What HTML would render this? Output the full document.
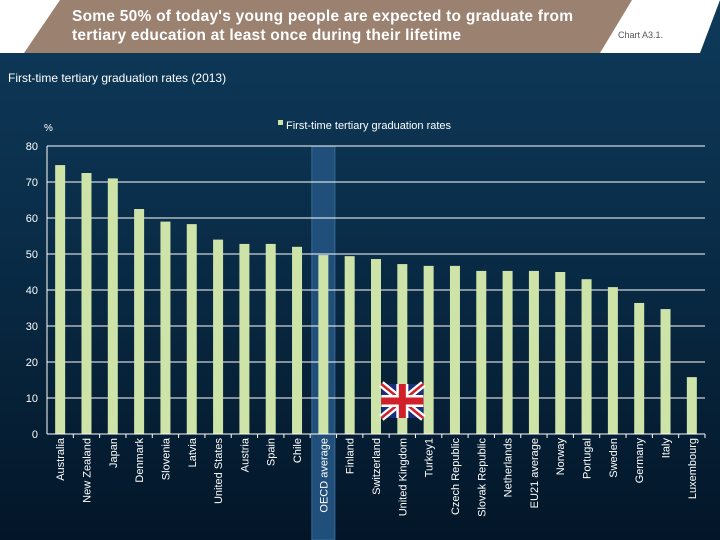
<!DOCTYPE html>
<html><head><meta charset="utf-8"><style>
body{margin:0;width:720px;height:540px;overflow:hidden;font-family:"Liberation Sans",sans-serif}
#bg{position:absolute;left:0;top:0;width:720px;height:540px;background:linear-gradient(180deg,#0e3a5a 0%,#0a2e4a 40%,#031628 100%)}
svg{position:absolute;left:0;top:0}
</style></head><body>
<div id="bg"></div>
<svg width="720" height="540">
<polygon points="0,0 720,0 720,0 700,53 0,53" fill="#ffffff"/>
<polygon points="60,0 632,0 600,53 24,53" fill="#9a8170"/>
<text x="72" y="21" font-size="15.5" font-weight="bold" fill="#fff" textLength="501">Some 50% of today's young people are expected to graduate from</text>
<text x="72" y="40" font-size="15.5" font-weight="bold" fill="#fff" textLength="389">tertiary education at least once during their lifetime</text>
<text x="618" y="38" font-size="9" fill="#555">Chart A3.1.</text>
<text x="8" y="82" font-size="12" fill="#fff">First-time tertiary graduation rates (2013)</text>
<rect x="278" y="120" width="5" height="5" fill="#cde3a8"/>
<text x="286" y="129" font-size="11" fill="#fff">First-time tertiary graduation rates</text>
<text x="44" y="131" font-size="10" fill="#fff">%</text>
<g id="plot"></g>
</svg>
<script>
const categories=["Australia","New Zealand","Japan","Denmark","Slovenia","Latvia","United States","Austria","Spain","Chile","OECD average","Finland","Switzerland","United Kingdom","Turkey1","Czech Republic","Slovak Republic","Netherlands","EU21  average","Norway","Portugal","Sweden","Germany","Italy","Luxembourg"];
const values=[74.7,72.5,71,62.5,59,58.3,54,52.8,52.8,52,49.7,49.4,48.6,47.2,46.7,46.7,45.3,45.3,45.3,45,43,40.8,36.4,34.7,15.8];
const yTicks=[0,10,20,30,40,50,60,70,80];
const NS="http://www.w3.org/2000/svg";
const g=document.getElementById('plot');
const x0=47,x1=705,y0=434,yTop=146;
const step=(x1-x0)/categories.length;
function X(i){return x0+step/2+i*step;}
function Y(v){return y0-(v/80)*(y0-yTop);}
function mk(t,a){const e=document.createElementNS(NS,t);for(const k in a)e.setAttribute(k,a[k]);g.appendChild(e);return e;}
const oi=categories.indexOf("OECD average");
let hb=mk('rect',{x:X(oi)-11.5,y:yTop,width:23,height:540-yTop,fill:'#1f4f7a',stroke:'#3a6a95','stroke-width':1});


yTicks.forEach(t=>{
  if(t>0){let l=mk('line',{x1:x0,x2:x1,y1:Y(t),y2:Y(t),stroke:'#fff','stroke-width':1});
  
  }
  let tx=mk('text',{x:38,y:Y(t)+4,'font-size':11,fill:'#fff','text-anchor':'end'});tx.textContent=t;
  
  
});
categories.forEach((c,i)=>{
  let b=mk('rect',{x:X(i)-5,y:Y(values[i]),width:10,height:y0-Y(values[i]),fill:'#cde3a8'});
  
  
  let tk=mk('line',{x1:X(i)+step/2,x2:X(i)+step/2,y1:y0,y2:y0+4,stroke:'#fff'});
  
  
  let t=mk('text',{x:0,y:0,'font-size':11,fill:'#fff','text-anchor':'end',transform:`translate(${X(i)+4},${y0+4}) rotate(-90)`});
  t.textContent=c;
  
  
});
let ax=mk('line',{x1:x0,x2:x1,y1:y0,y2:y0,stroke:'#fff'});


let ay=mk('line',{x1:x0,x2:x0,y1:yTop,y2:y0,stroke:'#fff'});


const ui=categories.indexOf("United Kingdom");
const fx=X(ui)-21,fy=384,fw=42,fh=34;
const flag=document.createElementNS(NS,'g');


flag.innerHTML=`<rect x="${fx}" y="${fy}" width="${fw}" height="${fh}" fill="#1a2f7a"/>
<line x1="${fx}" y1="${fy}" x2="${fx+fw}" y2="${fy+fh}" stroke="#fff" stroke-width="7"/>
<line x1="${fx+fw}" y1="${fy}" x2="${fx}" y2="${fy+fh}" stroke="#fff" stroke-width="7"/>
<line x1="${fx}" y1="${fy}" x2="${fx+fw}" y2="${fy+fh}" stroke="#d0202a" stroke-width="2.5"/>
<line x1="${fx+fw}" y1="${fy}" x2="${fx}" y2="${fy+fh}" stroke="#d0202a" stroke-width="2.5"/>
<rect x="${fx+fw/2-6}" y="${fy}" width="12" height="${fh}" fill="#fff"/>
<rect x="${fx}" y="${fy+fh/2-6}" width="${fw}" height="12" fill="#fff"/>
<rect x="${fx+fw/2-3.5}" y="${fy}" width="7" height="${fh}" fill="#d0202a"/>
<rect x="${fx}" y="${fy+fh/2-3.5}" width="${fw}" height="7" fill="#d0202a"/>`;
g.appendChild(flag);
</script>
</body></html>
